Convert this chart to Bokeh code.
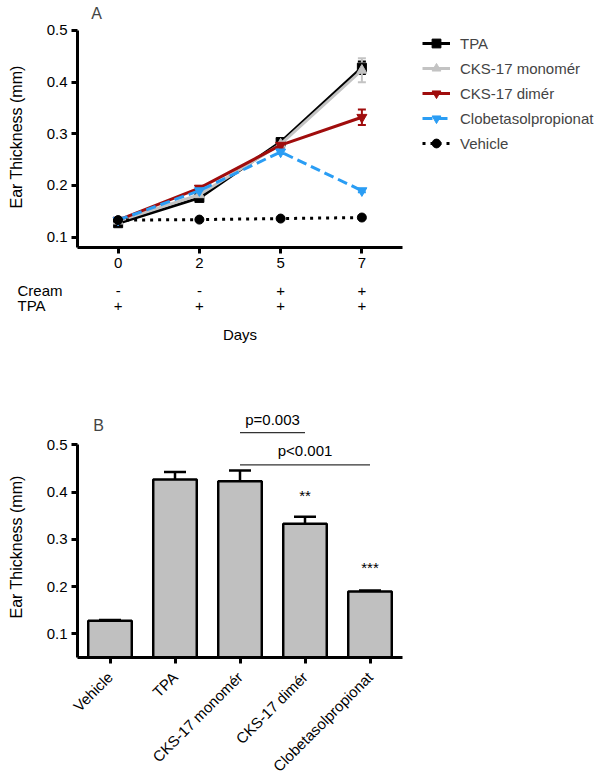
from math import pi
from bokeh.plotting import figure
from bokeh.models import (ColumnDataSource, Legend, LegendItem, Whisker, TeeHead,
                          Label, FixedTicker, Range1d, FactorRange, Title, LinearAxis)
from bokeh.embed import file_html
from bokeh.resources import INLINE
from bokeh.core.properties import value

FONT = "Liberation Sans"

# ---------------- Panel A data ----------------
days = ["0", "2", "5", "7"]
row_names = ["Cream", "TPA"]
cream_row = ["-", "-", "+", "+"]
tpa_row = ["+", "+", "+", "+"]

tpa_mean = [0.127, 0.176, 0.284, 0.428]
tpa_err = [0.005, 0.004, 0.007, 0.012]
mono_mean = [0.131, 0.182, 0.280, 0.423]
mono_err = [0.004, 0.004, 0.005, 0.023]
dimer_mean = [0.133, 0.195, 0.278, 0.332]
dimer_err = [0.003, 0.004, 0.005, 0.015]
clob_mean = [0.133, 0.190, 0.265, 0.190]
clob_err = [0.003, 0.003, 0.004, 0.003]
veh_mean = [0.133, 0.134, 0.136, 0.138]
veh_err = [0.002, 0.002, 0.002, 0.002]

# ---------------- Panel B data ----------------
groups = ["Vehicle", "TPA", "CKS-17 monomér", "CKS-17 dimér", "Clobetasolpropionat"]
bar_mean = [0.128, 0.427, 0.423, 0.333, 0.190]
bar_err = [0.0015, 0.016, 0.023, 0.015, 0.002]
sig_marks = ["", "", "", "**", "***"]
sig_height = [0, 0, 0, 0.392, 0.240]
comp_from = ["CKS-17 monomér", "CKS-17 monomér"]
comp_to = ["CKS-17 dimér", "Clobetasolpropionat"]
comp_text = ["p=0.003", "p<0.001"]
comp_line_y = [0.526, 0.458]
comp_text_y = [0.554, 0.488]

W = 600
LEFT = 77          # frame left (y axis line)
AXIS_END = 402     # right end of the x axes
YLABEL = "Ear Thickness (mm)"


def style_axes(p):
    for ax in list(p.xaxis) + list(p.yaxis):
        ax.axis_line_width = 3
        ax.axis_line_color = "black"
        ax.major_tick_line_width = 3
        ax.major_tick_line_color = "black"
        ax.major_tick_out = 6
        ax.major_tick_in = 0
        ax.minor_tick_line_color = None
        ax.major_label_text_font = FONT
        ax.major_label_text_font_size = "15px"
        ax.major_label_text_color = "black"
        ax.major_label_standoff = 4
    p.grid.visible = False
    p.outline_line_color = None


def add_ylabel(p, spacer_at):
    # blank spacer axis (white tick in an empty spot, no line, no label text)
    spacer = LinearAxis(ticker=FixedTicker(ticks=[spacer_at]), axis_line_color=None,
                        major_tick_out=19, major_tick_in=0, minor_tick_out=0,
                        minor_tick_in=0, major_tick_line_color="white",
                        major_tick_line_width=1, major_label_standoff=0,
                        major_label_overrides={spacer_at: ""},
                        major_label_text_font_size="1px")
    p.add_layout(spacer, "left")
    p.add_layout(Title(text=YLABEL, align="left", offset=39, vertical_align="bottom",
                       standoff=0, text_font=FONT, text_font_size="16px",
                       text_font_style="normal", text_color="black"), "left")


# ================= Panel A =================
xi = list(range(len(days)))
px_per_unit = (AXIS_END - LEFT) / len(days)
pa = figure(width=W, height=278, output_backend="svg", toolbar_location=None,
            x_range=Range1d(-0.5, -0.5 + (W - LEFT) / px_per_unit),
            y_range=Range1d(0.08, 0.558),
            min_border_left=LEFT, min_border_right=0, min_border_top=0, min_border_bottom=31)

pa.xaxis.ticker = FixedTicker(ticks=xi)
pa.xaxis.major_label_overrides = {i: d for i, d in zip(xi, days)}
pa.xaxis.bounds = (-0.5, len(days) - 0.5)
pa.yaxis.ticker = FixedTicker(ticks=[0.1, 0.2, 0.3, 0.4, 0.5])
pa.yaxis.bounds = (0.08, 0.5)
style_axes(pa)
add_ylabel(pa, 0.54)

specs = [
    ("TPA", tpa_mean, tpa_err, "black", "solid", "square", 9),
    ("CKS-17 monomér", mono_mean, mono_err, "#c3c3c3", "solid", "triangle", 10),
    ("CKS-17 dimér", dimer_mean, dimer_err, "#a00d0d", "solid", "inverted_triangle", 10),
    ("Clobetasolpropionat", clob_mean, clob_err, "#2a9df4", "10 5", "inverted_triangle", 10),
    ("Vehicle", veh_mean, veh_err, "black", "3 5", "circle", 9),
]
items = []
for name, m, e, col, dash, mk, sz in specs:
    src = ColumnDataSource(dict(x=xi, y=m,
                                lo=[a - b for a, b in zip(m, e)],
                                hi=[a + b for a, b in zip(m, e)]))
    w = Whisker(base="x", upper="hi", lower="lo", source=src, line_color=col, line_width=2,
                upper_head=TeeHead(size=8, line_color=col, line_width=2),
                lower_head=TeeHead(size=8, line_color=col, line_width=2))
    pa.add_layout(w)
    lr = pa.line("x", "y", source=src, line_color=col, line_width=3, line_dash=dash)
    sr = pa.scatter("x", "y", source=src, marker=mk, size=sz, fill_color=col, line_color=col)
    items.append(LegendItem(label=name, renderers=[lr, sr]))

legend = Legend(items=items, location=(345, 93), padding=0, margin=0, spacing=3,
                glyph_width=28, glyph_height=22, label_height=22, label_standoff=10,
                label_text_font=FONT, label_text_font_size="15px",
                border_line_color=None, background_fill_alpha=0)
pa.add_layout(legend)

pa.add_layout(Label(x=-0.266, y=0.533, text="A", text_font=FONT, text_font_size="16px",
                    text_align="center", text_baseline="middle"))

# ================= Treatment table under panel A =================
tx0 = -0.5 - LEFT / px_per_unit
tx1 = -0.5 + (W - LEFT) / px_per_unit
pt = figure(width=W, height=72, output_backend="svg", toolbar_location=None,
            x_range=Range1d(tx0, tx1), y_range=Range1d(72, 0),
            x_axis_location=None, y_axis_location=None,
            min_border_left=0, min_border_right=0, min_border_top=0, min_border_bottom=0)
pt.grid.visible = False
pt.outline_line_color = None
row_base = [12, 27]
for name, row, yb in zip(row_names, [cream_row, tpa_row], row_base):
    pt.text(x=[tx0 + 17 / px_per_unit], y=[yb], text=[name], text_font=value(FONT),
            text_font_size="15px", text_align="left", text_baseline="alphabetic",
            text_color="black")
    pt.text(x=xi, y=[yb] * len(xi), text=row, text_font=value(FONT), text_font_size="15px",
            text_align="center", text_baseline="alphabetic", text_color="black")
pt.text(x=[(len(days) - 1) / 2], y=[56], text=["Days"], text_font=value(FONT),
        text_font_size="15px", text_align="center", text_baseline="alphabetic",
        text_color="black")

# ================= Panel B =================
pb = figure(width=W, height=433, output_backend="svg", toolbar_location=None,
            x_range=FactorRange(*groups, range_padding=0), y_range=Range1d(0.05, 0.7),
            min_border_left=LEFT, min_border_right=W - AXIS_END, min_border_top=0,
            min_border_bottom=124)
pb.yaxis.ticker = FixedTicker(ticks=[0.1, 0.2, 0.3, 0.4, 0.5])
pb.yaxis.bounds = (0.05, 0.5)
style_axes(pb)
add_ylabel(pb, 0.65)
pb.xaxis.major_label_orientation = pi / 4
pb.xaxis.major_label_standoff = 11

bsrc = ColumnDataSource(dict(x=groups, top=bar_mean,
                             lo=[a - b for a, b in zip(bar_mean, bar_err)],
                             hi=[a + b for a, b in zip(bar_mean, bar_err)],
                             sig=sig_marks, sy=sig_height))
pb.vbar(x="x", top="top", bottom=0, width=0.67, source=bsrc,
        fill_color="#c0c0c0", line_color="black", line_width=2.5)
pb.add_layout(Whisker(base="x", upper="hi", lower="lo", source=bsrc, line_color="black",
                      line_width=2.5,
                      upper_head=TeeHead(size=22, line_color="black", line_width=2.5),
                      lower_head=TeeHead(size=22, line_color="black", line_width=2.5)))
pb.text(x="x", y="sy", text="sig", source=bsrc, text_font=value(FONT), text_font_size="15px",
        text_align="center", text_baseline="middle", text_color="black")

csrc = ColumnDataSource(dict(x0=comp_from, x1=comp_to, ly=comp_line_y))
pb.segment(x0="x0", y0="ly", x1="x1", y1="ly", source=csrc, line_color="#333333", line_width=1.2)
mid_x = [(groups.index(a) + groups.index(b)) / 2 + 0.5 for a, b in zip(comp_from, comp_to)]
pb.text(x=mid_x, y=comp_text_y, text=comp_text, text_font=value(FONT), text_font_size="15px",
        text_align="center", text_baseline="middle", text_color="black")

pb.add_layout(Label(x=0.326, y=0.542, text="B", text_font=FONT, text_font_size="16px",
                    text_align="center", text_baseline="middle"))

open("out.html", "w").write(file_html([pa, pt, pb], INLINE))
